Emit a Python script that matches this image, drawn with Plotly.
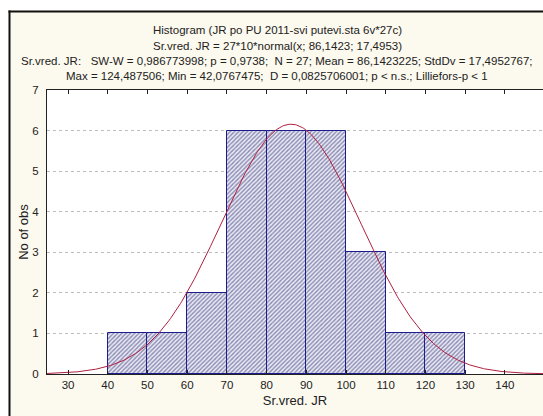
import numpy as np
import plotly.graph_objects as go

# ---- data ----
bin_left = [40, 50, 60, 70, 80, 90, 100, 110, 120]
counts = [1, 1, 2, 6, 6, 6, 3, 1, 1]
bin_width = 10
n_obs = 27
fit_mean = 86.1423
fit_sd = 17.4953
x_ticks = [30, 40, 50, 60, 70, 80, 90, 100, 110, 120, 130, 140]
y_ticks = [0, 1, 2, 3, 4, 5, 6, 7]

title_lines = [
    "Histogram (JR po PU 2011-svi putevi.sta 6v*27c)",
    "Sr.vred. JR = 27*10*normal(x; 86,1423; 17,4953)",
    "Sr.vred. JR:   SW-W = 0,986773998; p = 0,9738;  N = 27; Mean = 86,1423225; StdDv = 17,4952767;",
    "Max = 124,487506; Min = 42,0767475;  D = 0,0825706001; p < n.s.; Lilliefors-p < 1",
]

# fitted normal curve as stated in the chart: 27*10*normal(x; mean; sd)
xc = np.linspace(24.7, 150, 400)
yc = n_obs * bin_width * np.exp(-0.5 * ((xc - fit_mean) / fit_sd) ** 2) / (fit_sd * np.sqrt(2 * np.pi))

W, H = 543, 416
L, R, T, B = 47, 0, 90, 42
pw, ph = W - L - R, H - T - B

def px(x):
    return (x - L) / pw

def py(y):
    return (H - B - y) / ph

fig = go.Figure()
fig.add_trace(go.Bar(
    x=bin_left, y=counts, width=bin_width, offset=0,
    marker=dict(color="white", line=dict(color="#1c1c8c", width=1),
                pattern=dict(shape="/", fgcolor="#2a2a70", bgcolor="#eaeaf5", size=3, solidity=0.45, fillmode="overlay")),
    showlegend=False, hoverinfo="skip"))
fig.add_trace(go.Scatter(x=xc, y=yc, mode="lines", line=dict(color="#b0203e", width=1), showlegend=False, hoverinfo="skip"))

annots = []
ys = [30, 46, 61, 76]
for t, yy in zip(title_lines, ys):
    annots.append(dict(text=t, x=px(277), y=py(yy), xref="paper", yref="paper", showarrow=False,
                       xanchor="center", yanchor="middle", font=dict(family="Liberation Sans, Arial", size=11.5, color="#222")))

shapes = [
    dict(type="rect", xref="paper", yref="paper", x0=px(-5), x1=px(8.5), y0=py(-5), y1=py(425), fillcolor="white", line_width=0, layer="above"),
    dict(type="rect", xref="paper", yref="paper", x0=px(-5), x1=px(550), y0=py(-5), y1=py(10.5), fillcolor="white", line_width=0, layer="above"),
    dict(type="line", xref="paper", yref="paper", x0=px(9.5), x1=px(9.5), y0=py(10.5), y1=py(425), line=dict(color="#111", width=2), layer="above"),
    dict(type="line", xref="paper", yref="paper", x0=px(8.5), x1=px(550), y0=py(11.5), y1=py(11.5), line=dict(color="#111", width=2), layer="above"),
]

fig.update_layout(
    width=W, height=H, margin=dict(l=L, r=R, t=T, b=B),
    paper_bgcolor="#fcf9ee", plot_bgcolor="white",
    font=dict(family="Liberation Sans, Arial", size=11, color="#222"),
    bargap=0, annotations=annots, shapes=shapes,
    xaxis=dict(range=[24.7, 149.6], tickvals=x_ticks, ticks="inside", ticklen=4, tickcolor="#222",
               showline=True, linecolor="#222", linewidth=1, mirror="allticks", showgrid=False, zeroline=False,
               title=dict(text="Sr.vred. JR", standoff=6), tickfont=dict(size=11.5)),
    yaxis=dict(range=[0, 7], tickvals=y_ticks, showline=True, linecolor="#222", linewidth=1, mirror=True,
               showgrid=True, gridcolor="#bdbdbd", griddash="dot", gridwidth=1, zeroline=False,
               ticks="", ticklabelstandoff=5,
               title=dict(text="No of obs", standoff=0), tickfont=dict(size=11.5)),
)

fig.write_html("out.html")
